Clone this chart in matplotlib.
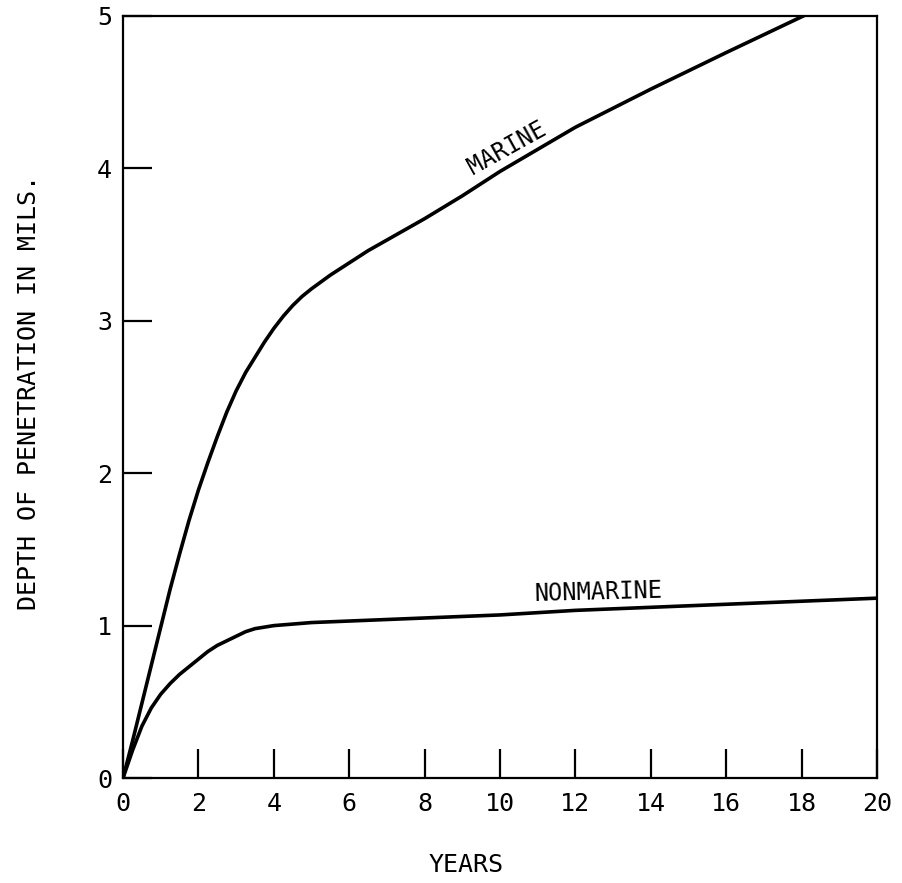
import matplotlib
matplotlib.use("Agg")
import matplotlib.pyplot as plt

# datos
anios_marine = [0, 0.25, 0.5, 0.75, 1.0, 1.25, 1.5, 1.75, 2.0, 2.25, 2.5, 2.75, 3.0, 3.25, 3.5,
                3.75, 4.0, 4.25, 4.5, 4.75, 5.0, 5.5, 6.0, 6.5, 7.0, 7.5, 8.0, 9.0, 10, 12, 14, 16, 18.3]
prof_marine = [0, 0.24, 0.49, 0.74, 0.99, 1.24, 1.47, 1.69, 1.89, 2.07, 2.24, 2.4, 2.54, 2.66, 2.76,
               2.86, 2.95, 3.03, 3.1, 3.16, 3.21, 3.3, 3.38, 3.46, 3.53, 3.6, 3.67, 3.82, 3.98, 4.27, 4.52, 4.76, 5.03]

anios_nonmarine = [0, 0.25, 0.5, 0.75, 1.0, 1.25, 1.5, 1.75, 2.0, 2.25, 2.5, 2.75, 3.0, 3.25, 3.5,
                   3.75, 4.0, 4.5, 5.0, 6.0, 8.0, 10, 12, 14, 16, 18, 20]
prof_nonmarine = [0, 0.18, 0.34, 0.46, 0.55, 0.62, 0.68, 0.73, 0.78, 0.83, 0.87, 0.9, 0.93, 0.96, 0.98,
                  0.99, 1.0, 1.01, 1.02, 1.03, 1.05, 1.07, 1.1, 1.12, 1.14, 1.16, 1.18]

xticks = [0, 2, 4, 6, 8, 10, 12, 14, 16, 18, 20]
yticks = [0, 1, 2, 3, 4, 5]

plt.rcParams['font.family'] = ['DejaVu Sans Mono', 'DejaVu Sans']

fig = plt.figure(figsize=(9.02, 8.83), dpi=100)
ax = fig.add_axes([0.1364, 0.1189, 0.8359, 0.8630])

ax.plot(anios_marine, prof_marine, color='black', lw=2.6, solid_capstyle='round', solid_joinstyle='round')
ax.plot(anios_nonmarine, prof_nonmarine, color='black', lw=2.6, solid_capstyle='round', solid_joinstyle='round')

ax.set_xlim(0, 20)
ax.set_ylim(0, 5)
ax.set_xticks(xticks)
ax.set_yticks(yticks)
ax.tick_params(axis='x', direction='in', length=21, width=1.6, pad=10, labelsize=18)
ax.tick_params(axis='y', direction='in', length=21, width=1.6, pad=8, labelsize=18)
for s in ax.spines.values():
    s.set_linewidth(1.6)

ax.text(10.19, 4.13, 'MARINE', rotation=29, ha='center', va='center', fontsize=17)
ax.text(12.6, 1.22, 'NONMARINE', rotation=1.5, ha='center', va='center', fontsize=17)

fig.text(0.5166, 0.0204, 'YEARS', ha='center', va='center', fontsize=18)
fig.text(0.032, 0.555, 'DEPTH OF PENETRATION IN MILS.', rotation=90, ha='center', va='center', fontsize=18)

fig.savefig('out.png', dpi=100)
